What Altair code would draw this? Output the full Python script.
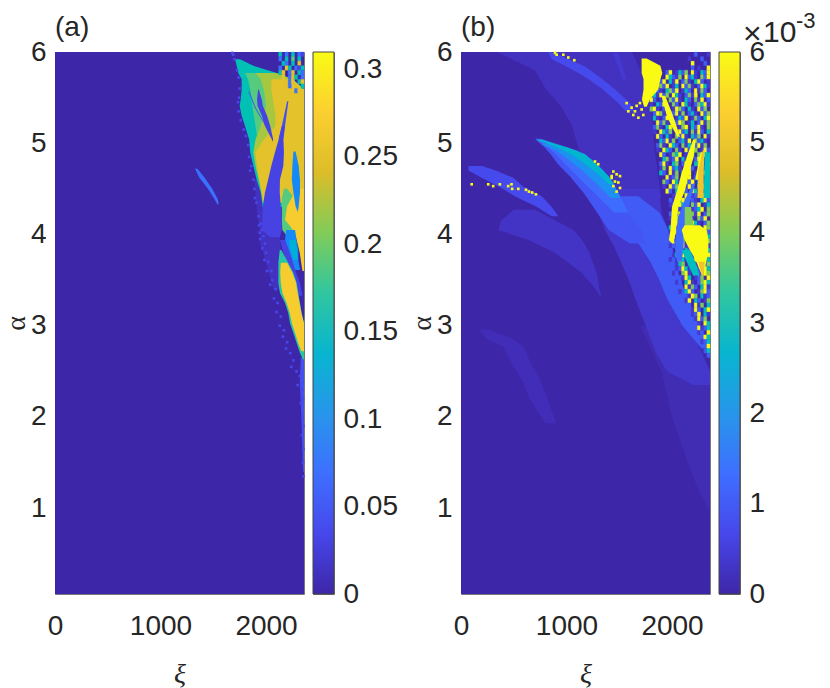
import altair as alt
import pandas as pd

SANS = "Liberation Sans"
SERIF = "Liberation Serif"
INK = "#262626"

PARULA = ["#3e26a8", "#4747eb", "#3e6fff", "#2796eb", "#08b5d0",
          "#31c69f", "#81cc59", "#dcbd29", "#fccf30", "#f9fb15"]

XI_MAX = 2360
ALPHA_MIN = 0.06
ALPHA_MAX = 6
NOISE_XI = 30
NOISE_ALPHA = 0.05

# every region: (value, alpha slices, left xi, right xi), painted in this order
shapes_a_under = [
    (0.012, [4.6, 4.3, 4.05, 3.9, 3.7, 3.4], [1890, 1910, 1940, 1945, 2000, 2070], [2100, 2110, 2130, 2135, 2150, 2200]),
    (0.04, [2.65, 2.4, 2.0, 1.4], [2330, 2320, 2335, 2350], [2360, 2360, 2360, 2360]),
    (0.16, [5.92, 5.85, 5.77, 5.7, 5.59, 5.48, 5.41, 5.3, 5.19, 5.04, 4.9, 4.75, 4.6, 4.46, 4.3],
     [1706, 1722, 1737, 1769, 1769, 1760, 1750, 1769, 1801, 1840, 1850, 1880, 1911, 1950, 1968],
     [1753, 1880, 2101, 2250, 2360, 2360, 2360, 2360, 2360, 2360, 2360, 2360, 2360, 2360, 2360]),
    (0.19, [5.77, 5.7, 5.59, 5.41, 5.19, 5.04, 4.9, 4.75, 4.6, 4.46, 4.35],
     [1800, 1830, 1850, 1870, 1900, 1920, 1920, 1930, 1940, 1958, 1972],
     [2090, 2250, 2360, 2360, 2360, 2360, 2360, 2360, 2360, 2360, 2360]),
    (0.22, [5.77, 5.7, 5.59, 5.41, 5.19, 5.04, 4.9, 4.75, 4.6, 4.46, 4.35],
     [1900, 1950, 1980, 2000, 1950, 1900, 1880, 1900, 1930, 1955, 1972],
     [2100, 2250, 2360, 2360, 2360, 2360, 2360, 2360, 2360, 2360, 2360]),
    (0.25, [5.7, 5.59, 5.3, 5.19, 5.04, 4.9, 4.75, 4.6, 4.46, 4.35],
     [2050, 2050, 2090, 2090, 1980, 1900, 1915, 1935, 1960, 1972],
     [2250, 2360, 2360, 2360, 2360, 2360, 2360, 2360, 2360, 2360]),
]
shapes_a_over = [
    (0.05, [5.57, 5.39, 5.12], [1832, 1893, 2030], [1842, 1903, 2040]),
    (0.03, [5.59, 5.48, 5.41, 5.3, 5.19, 5.04, 5.02], [1925, 1915, 1920, 1960, 1990, 2055, 2063], [1932, 1960, 1970, 2010, 2040, 2068, 2064]),
    (0.04, [5.46, 5.19, 5.05], [2200, 2150, 2120], [2212, 2180, 2160]),
    (0.19, [4.5, 4.4, 4.3, 4.16, 4.05, 3.98], [2170, 2150, 2150, 2150, 2155, 2200], [2200, 2270, 2300, 2360, 2290, 2240]),
    (0.27, [4.5, 4.31, 4.16, 4.09, 4.02, 3.94, 3.8, 3.6], [2290, 2200, 2180, 2230, 2270, 2290, 2320, 2345], [2360, 2360, 2360, 2360, 2360, 2360, 2360, 2360]),
    (0.03, [5.19, 5.04, 4.9, 4.75, 4.6, 4.46, 4.31, 4.16, 4.05, 3.97], [2150, 2120, 2085, 2050, 2020, 1990, 1970, 1965, 1960, 2040], [2180, 2165, 2170, 2164, 2132, 2130, 2140, 2150, 2150, 2130]),
    (0.09, [4.91, 4.75, 4.6, 4.46, 4.31, 4.25], [2260, 2250, 2245, 2260, 2280, 2300], [2280, 2310, 2322, 2322, 2310, 2302]),
    (0.09, [4.05, 3.94, 3.83, 3.72, 3.61], [2190, 2180, 2210, 2243, 2275], [2275, 2290, 2306, 2306, 2322]),
    (0.13, [3.94, 3.85, 3.72], [2220, 2225, 2260], [2280, 2295, 2300]),
    (0.03, [3.94, 3.8, 3.61, 3.47, 3.33], [2132, 2164, 2227, 2275, 2310], [2180, 2227, 2275, 2322, 2345]),
    (0.17, [3.83, 3.69, 3.58, 3.47, 3.36, 3.25, 3.14, 3.03, 2.92, 2.81, 2.7, 2.63],
     [2130, 2117, 2117, 2117, 2132, 2180, 2211, 2227, 2259, 2290, 2322, 2350],
     [2145, 2211, 2259, 2290, 2306, 2322, 2338, 2360, 2360, 2360, 2360, 2360]),
    (0.27, [3.69, 3.58, 3.47, 3.36, 3.25, 3.14, 3.03, 2.92, 2.81, 2.72],
     [2140, 2135, 2140, 2155, 2195, 2225, 2245, 2275, 2305, 2335],
     [2200, 2250, 2285, 2300, 2318, 2335, 2360, 2360, 2360, 2360]),
    (0.07, [4.72, 4.62, 4.5, 4.38, 4.33], [1327, 1370, 1450, 1515, 1540], [1350, 1420, 1490, 1545, 1550]),
]
# noisy top right corner of (a), right aligned on xi = 2360, from alpha = 6 down
noise_levels_a = {"0": None, "1": 0.03, "2": 0.07, "4": 0.16, "5": 0.19, "7": 0.25}
noise_rows_a = ["40204021", "20405040", "04204070", "20740214", "47027042", "07027402",
                "7027047", "0720704", "70270"]
# blue specks along the left rim of (a)
speck_xi = [1690, 1700, 1680, 1725, 1740, 1750, 1745, 1735, 1740, 1760, 1790, 1810, 1830, 1840, 1860, 1850,
            1880, 1890, 1895, 1910, 1930, 1935, 1940, 1950, 1960, 1975, 1945, 1990, 1965, 2000, 1985, 2020,
            2050, 2010, 2060, 2040, 2090, 2075, 2110, 2100, 2140, 2130, 2170, 2160, 2200, 2190, 2230, 2260,
            2240, 2290, 2320, 2300, 2340, 2350, 2330, 2345, 2355, 2340, 2355, 2350, 2355]
speck_alpha = [5.97, 5.92, 5.99, 5.8, 5.72, 5.6, 5.5, 5.45, 5.35, 5.25, 5.15, 5.08, 4.98, 4.85, 4.75, 4.7,
               4.6, 4.5, 4.4, 4.35, 4.2, 4.1, 4.02, 4.12, 4.05, 3.98, 3.95, 3.9, 3.85, 3.8, 3.72, 3.7,
               3.6, 3.6, 3.5, 3.45, 3.4, 3.3, 3.25, 3.15, 3.1, 3.0, 2.95, 2.88, 2.82, 2.75, 2.7, 2.62,
               2.55, 2.5, 2.45, 2.35, 2.3, 2.2, 2.15, 2.0, 1.9, 1.8, 1.65, 1.5, 1.35]

# panel (b), in units of 1e-3
shapes_b_under = [
    (0.15, [2.96, 2.85, 2.77, 2.55, 2.41, 2.2, 1.93], [164, 250, 400, 500, 575, 650, 800], [260, 500, 590, 680, 750, 820, 900]),
    (0.12, [3.0, 2.5, 2.0, 1.5, 1.2, 1.0], [1700, 1900, 2000, 2150, 2250, 2340], [2200, 2360, 2360, 2360, 2360, 2360]),
    (0.25, [6.0, 5.8, 5.6, 5.4, 5.2, 5.0, 4.8, 4.6, 4.4], [340, 700, 800, 950, 1050, 1100, 1150, 1350, 1500], [1620, 1700, 1760, 1790, 1820, 1830, 1850, 1875, 1900]),
    (0.7, [6.0, 5.92, 5.84, 5.73, 5.6, 5.44, 5.35], [828, 860, 1000, 1175, 1333, 1491, 1560], [850, 1020, 1175, 1310, 1450, 1600, 1640]),
    (0.4, [5.99, 5.7], [1440, 1530], [1490, 1570]),
    (0.3, [4.27, 4.15, 4.05, 3.94, 3.8, 3.58, 3.41, 3.3], [500, 380, 354, 638, 891, 1144, 1270, 1333], [700, 900, 1065, 1150, 1215, 1286, 1310, 1333]),
    (0.7, [4.75, 4.7, 4.62, 4.53, 4.42, 4.3, 4.2], [70, 70, 200, 354, 510, 720, 860], [200, 330, 500, 585, 765, 860, 923]),
    (0.35, [4.5, 4.24, 4.05, 3.87, 3.69, 3.5, 3.3, 3.0, 2.7, 2.5, 2.35], [1300, 1300, 1365, 1450, 1520, 1590, 1650, 1750, 1850, 1950, 2200], [1880, 1900, 1965, 1965, 1965, 2000, 2050, 2150, 2280, 2360, 2360]),
    (1.0, [4.42, 4.24, 4.05, 3.87, 3.69, 3.5, 3.3, 3.0, 2.75], [1500, 1500, 1580, 1700, 1800, 1880, 1950, 2100, 2280], [1680, 1880, 1965, 2000, 2030, 2080, 2150, 2260, 2360]),
    (0.9, [5.05, 4.95, 4.88, 4.77, 4.64, 4.46, 4.24, 4.05, 3.9], [701, 796, 850, 920, 1030, 1160, 1290, 1400, 1600], [760, 1017, 1175, 1286, 1396, 1491, 1586, 1712, 1750]),
    (1.3, [5.03, 4.95, 4.88, 4.77, 4.64, 4.46, 4.24], [715, 830, 900, 990, 1100, 1260, 1450], [770, 1017, 1175, 1286, 1396, 1491, 1586]),
    (1.9, [4.99, 4.92, 4.82, 4.7, 4.55, 4.4], [760, 900, 1020, 1150, 1290, 1420], [870, 1100, 1240, 1350, 1450, 1510]),
    (2.7, [5.04, 4.95, 4.88, 4.77, 4.64, 4.55], [710, 920, 1040, 1180, 1320, 1400], [760, 1017, 1175, 1286, 1396, 1450]),
]
shapes_b_over = [
    (6, [5.93, 5.85, 5.77, 5.7, 5.59, 5.48, 5.4], [1712, 1712, 1712, 1730, 1730, 1715, 1735], [1760, 1890, 1908, 1890, 1870, 1790, 1760]),
    (6, [5.52, 5.3, 5.2, 5.07], [1900, 1950, 1990, 2050], [1935, 2010, 2040, 2075]),
    (6, [5.04, 4.85, 4.67, 4.49, 4.3, 4.05, 3.94, 3.9], [2200, 2140, 2090, 2050, 2000, 1985, 1970, 2000], [2225, 2205, 2160, 2125, 2060, 2040, 2020, 2025]),
    (1.3, [4.56, 4.4, 4.2, 4.05, 3.85, 3.7], [2200, 2130, 2060, 2040, 2030, 2045], [2220, 2180, 2145, 2110, 2110, 2090]),
    (4, [4.3, 4.05, 3.95], [2120, 2120, 2115], [2180, 2210, 2200]),
    (3, [3.83, 3.7, 3.55], [2092, 2140, 2200], [2170, 2220, 2260]),
    (6, [4.1, 4.05, 3.94, 3.83, 3.73, 3.62, 3.55], [2120, 2092, 2120, 2170, 2220, 2260, 2285], [2260, 2330, 2345, 2345, 2330, 2310, 2295]),
    (5, [3.7, 3.55], [2250, 2280], [2310, 2300]),
    (6, [4.9, 4.6], [2270, 2220], [2290, 2245]),
    (5, [4.92, 4.7, 4.4], [2290, 2250, 2240], [2310, 2300, 2300]),
    (3, [4.9, 4.4], [2310, 2300], [2360, 2360]),
]
# the noisy wedge of (b), right aligned on xi = 2360, from alpha = 6 down
noise_levels_b = {"0": None, "2": 0.4, "4": 1.0, "7": 3.0, "8": 4.0, "9": 6.0}
noise_rows_b = [
    "0040002", "2000400", "0900040", "0402009",
    "49027480920749", "097428094720849", "4907290482079402", "28490270948204972",
    "942078490274092840", "0729480972048290749", "9402708492074082904", "2074920840972048792",
    "8920470298407209480", "0498207492804720948", "720498027490284079", "094820749802704928",
    "482079402890749208", "209748029470829407", "94072084920748092", "07492804729084720",
    "48209740827049280", "20974082094780294", "9402879024708492", "0782490728049207",
    "4920780492078409", "2809472089402748", "7409280749028094", "092480729048207",
    "840972084907248", "209480729408972", "94072840972048", "0248097240894",
    "4207980420794", "2409720849027", "0782490247908", "4029740829048",
    "2480947208490", "0492804972048", "7204980247098", "2094270849024",
    "4820972048907", "0249807240948", "2407924089072", "4029074820497",
    "0274908240709", "2409720498027", "4027804920748", "024972084097",
    "240892074098", "04297024809", "24079204897", "4092840792",
    "2079402894", "042980724", "29074028", "4092807",
    "0294079", "249072", "029480", "42097",
    "09247", "2409", "0497", "247",
    "09", "47", "4",
]
# isolated bright pixels of panel (b)
dots_xi = [101, 258, 305, 368, 447, 479, 485, 543, 616, 644, 675, 710,
           891, 907, 970, 1017, 1074,
           1570, 1617, 1665, 1696, 1586, 1649, 1712, 1633, 1681, 1728,
           1444, 1475, 1428, 1507, 1459, 1491, 1444, 1475, 1507, 1428, 1270, 1301]
dots_alpha = [4.55, 4.55, 4.53, 4.55, 4.53, 4.55, 4.50, 4.50, 4.49, 4.47, 4.46, 4.44,
              5.99, 5.97, 5.97, 5.94, 5.91,
              5.44, 5.39, 5.41, 5.44, 5.35, 5.35, 5.37, 5.31, 5.28, 5.31,
              4.69, 4.66, 4.62, 4.64, 4.58, 4.57, 4.53, 4.47, 4.51, 4.64, 4.80, 4.77]


def noise_cells(rows, levels, top):
    cells = []
    for r, text in enumerate(rows):
        for i, ch in enumerate(text):
            value = levels[ch]
            if value is not None:
                right = XI_MAX - (len(text) - i - 1) * NOISE_XI
                cells.append({"xi": right - NOISE_XI, "xi2": right,
                              "alpha": top - r * NOISE_ALPHA,
                              "alpha2": top - (r + 1) * NOISE_ALPHA, "v": value})
    return pd.DataFrame(cells)


def color_scale(vmax):
    domain = [vmax * i / (len(PARULA) - 1) for i in range(len(PARULA))]
    return alt.Scale(domain=domain, range=PARULA, clamp=True)


def region(shape, cs):
    value, alphas, lefts, rights = shape
    df = pd.DataFrame({"alpha": alphas, "left": lefts, "right": rights, "v": value})
    return alt.Chart(df).mark_area(orient="horizontal", interpolate="linear").encode(
        y="alpha:Q", x="left:Q", x2="right:Q",
        color=alt.Color("v:Q", scale=cs, legend=None),
    )


def heat_panel(under, noise, over, vmax, label, points):
    xscale = alt.Scale(domain=[0, XI_MAX], nice=False, zero=False)
    yscale = alt.Scale(domain=[ALPHA_MIN, ALPHA_MAX], nice=False, zero=False)
    xaxis = alt.Axis(values=[0, 1000, 2000], format="d", title="ξ", grid=False, ticks=False, domain=False,
                     labelFlush=False, labelFont=SANS, labelFontSize=28, labelColor=INK, labelPadding=18,
                     titleFont=SERIF, titleFontSize=28, titleFontStyle="italic",
                     titleFontWeight="normal", titleColor=INK, titlePadding=20)
    yaxis = alt.Axis(values=[1, 2, 3, 4, 5, 6], format="d", title="α", grid=False, ticks=False, domain=False,
                     labelFlush=False, labelFont=SANS, labelFontSize=28, labelColor=INK, labelPadding=9,
                     titleFont=SERIF, titleFontSize=28, titleFontWeight="normal",
                     titleColor=INK, titlePadding=0)
    base = alt.Chart(pd.DataFrame({"xi": [0], "xi2": [XI_MAX],
                                   "alpha": [ALPHA_MAX], "alpha2": [ALPHA_MIN]}))
    back = base.mark_rect(color=PARULA[0]).encode(
        alt.X("xi:Q", scale=xscale, axis=xaxis),
        alt.X2("xi2:Q"),
        alt.Y("alpha:Q", scale=yscale, axis=yaxis),
        alt.Y2("alpha2:Q"),
    )
    cs = color_scale(vmax)
    cell = alt.Chart(noise).mark_rect(strokeWidth=0.3).encode(
        x="xi:Q", x2="xi2:Q", y="alpha:Q", y2="alpha2:Q",
        color=alt.Color("v:Q", scale=cs, legend=None),
        stroke=alt.Stroke("v:Q", scale=cs, legend=None),
    )
    layers = [back] + [region(s, cs) for s in under] + [cell] + [region(s, cs) for s in over] + [points]
    return alt.layer(*layers).properties(
        width=249, height=542,
        title=alt.TitleParams(label, anchor="start", frame="group", font=SANS, fontSize=28,
                              fontWeight="normal", color=INK, offset=-4),
    )


def colorbar(top, ticks, fmt, extra=None):
    stops = [alt.GradientStop(offset=i / (len(PARULA) - 1), color=c) for i, c in enumerate(PARULA)]
    bar = alt.Chart(pd.DataFrame({"lo": [0], "hi": [top]})).mark_rect(
        color=alt.Gradient(gradient="linear", stops=stops, x1=0, x2=0, y1=1, y2=0),
        stroke="#444444", strokeWidth=1,
    ).encode(
        y=alt.Y("lo:Q", scale=alt.Scale(domain=[0, top], nice=False),
                axis=alt.Axis(orient="right", values=ticks, format=fmt, title=None, grid=False,
                              ticks=False, domain=False, labelFlush=False, labelFont=SANS,
                              labelFontSize=28, labelColor=INK, labelPadding=9)),
        y2="hi:Q",
    )
    chart = bar if extra is None else bar + extra
    return chart.properties(width=21, height=542)


specks = alt.Chart(pd.DataFrame({"xi": speck_xi, "alpha": speck_alpha})).mark_square(
    size=7, color=PARULA[1], opacity=1).encode(x="xi:Q", y="alpha:Q")
dots = alt.Chart(pd.DataFrame({"xi": dots_xi, "alpha": dots_alpha})).mark_square(
    size=7, color=PARULA[-1], opacity=1).encode(x="xi:Q", y="alpha:Q")

panel_a = heat_panel(shapes_a_under, noise_cells(noise_rows_a, noise_levels_a, ALPHA_MAX),
                     shapes_a_over, 0.31, "(a)", specks)
panel_b = heat_panel(shapes_b_under, noise_cells(noise_rows_b, noise_levels_b, ALPHA_MAX),
                     shapes_b_over, 6, "(b)", dots)

mult = alt.Chart(pd.DataFrame({"t": ["×"]})).mark_text(
    font=SANS, fontSize=32, color=INK, align="left", baseline="alphabetic"
).encode(text="t:N", x=alt.value(24), y=alt.value(-8))
ten = alt.Chart(pd.DataFrame({"t": ["10"]})).mark_text(
    font=SANS, fontSize=30, color=INK, align="left", baseline="alphabetic"
).encode(text="t:N", x=alt.value(44), y=alt.value(-10))
exponent = alt.Chart(pd.DataFrame({"t": ["-3"]})).mark_text(
    font=SANS, fontSize=22, color=INK, align="left", baseline="alphabetic"
).encode(text="t:N", x=alt.value(77), y=alt.value(-24))

bar_a = colorbar(0.31, [0, 0.05, 0.1, 0.15, 0.2, 0.25, 0.3], "~g")
bar_b = colorbar(6, [0, 1, 2, 3, 4, 5, 6], "d", mult + ten + exponent)

spacer = alt.Chart(pd.DataFrame({"s": [0]})).mark_point(opacity=0).encode(
    x=alt.value(0), y=alt.value(0)
).properties(width=109, height=542, view=alt.ViewBackground(stroke="transparent"))

chart = alt.hconcat(
    panel_a, bar_a, spacer, panel_b, bar_b,
    spacing=9, bounds="flush",
).resolve_scale(
    color="independent", stroke="independent"
).configure_view(stroke="#777777", strokeWidth=1).properties(
    background="white", padding={"left": -7, "top": 1, "right": 0, "bottom": 0}
)

chart.save("out.html", embed_options={"renderer": "svg", "actions": False})
